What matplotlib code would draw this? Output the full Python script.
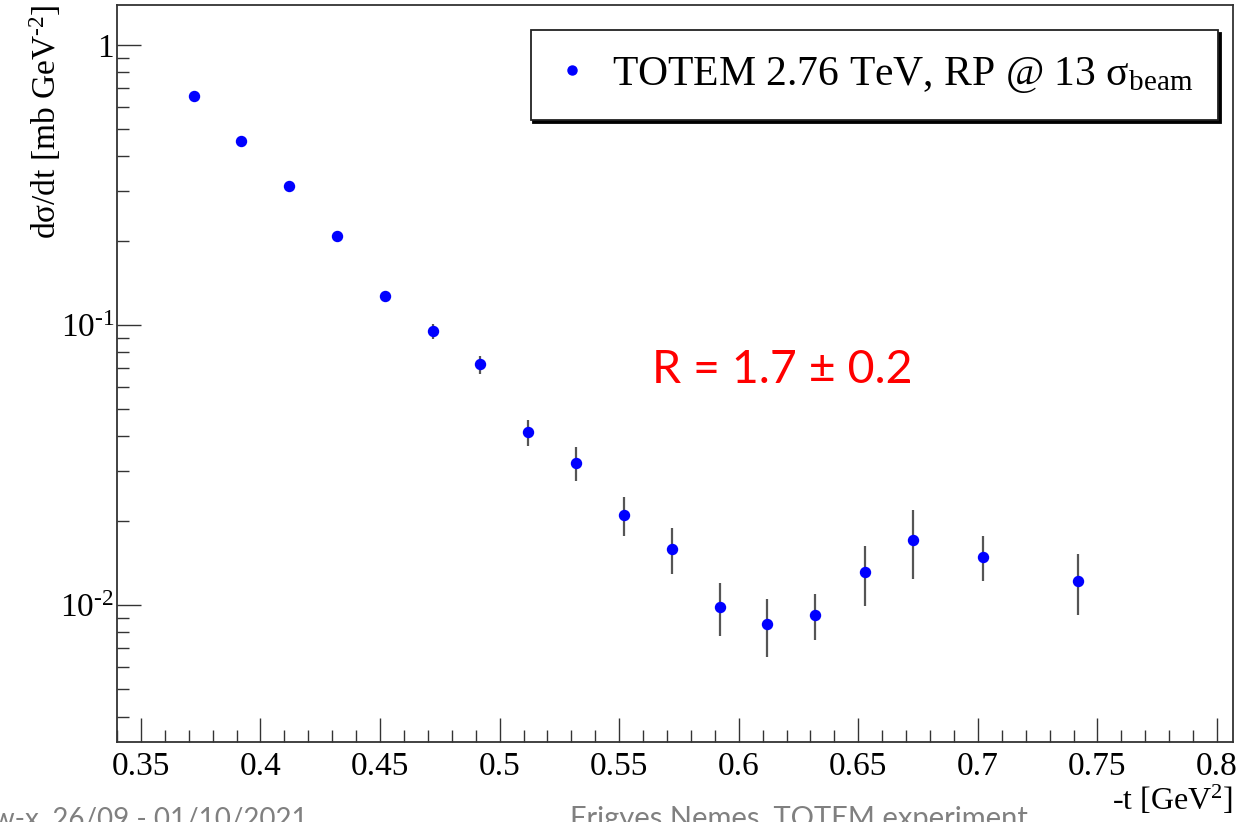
import numpy as np
import matplotlib
matplotlib.use("Agg")
import matplotlib.pyplot as plt
from matplotlib.lines import Line2D
from matplotlib.ticker import LogLocator, FixedLocator, MultipleLocator, FuncFormatter, NullFormatter

plt.rcParams['font.family'] = 'Liberation Serif'
plt.rcParams['mathtext.fontset'] = 'custom'
plt.rcParams['mathtext.rm'] = 'Liberation Serif'
plt.rcParams['mathtext.it'] = 'Liberation Serif:italic'
plt.rcParams['mathtext.bf'] = 'Liberation Serif:bold'

# -t bin centres [GeV^2] and measured dsigma/dt [mb/GeV^2]
t_vals = [0.372, 0.392, 0.412, 0.432, 0.452, 0.472, 0.492, 0.512, 0.532,
          0.552, 0.572, 0.592, 0.612, 0.632, 0.653, 0.673, 0.702, 0.742]
dsig = [0.659, 0.455, 0.313, 0.208, 0.127, 0.0952, 0.0724, 0.0414, 0.0322,
        0.0210, 0.0159, 0.00986, 0.00853, 0.00921, 0.0131, 0.0171, 0.0149, 0.0122]
dsig_err = [0.015, 0.010, 0.006, 0.005, 0.004, 0.0059, 0.0054, 0.0045, 0.00435,
            0.0034, 0.00295, 0.0021, 0.0020, 0.0017, 0.0032, 0.0047, 0.0027, 0.0030]

legend_label = r'TOTEM 2.76 TeV, RP @ 13 $\mathrm{σ_{beam}}$'
ratio_text = 'R = 1.7 ± 0.2'

W, H = 1238, 822
fig = plt.figure(figsize=(W / 100, H / 100), dpi=100)
ax = fig.add_axes([117 / W, 1 - 742 / H, (1233 - 117) / W, (742 - 5) / H])

ax.errorbar(t_vals, dsig, yerr=dsig_err, fmt='o', color='#0000ff', ms=7.2,
            mec='#0000ff', ecolor='#555555', elinewidth=1.6, capsize=0, zorder=3)

ax.set_yscale('log')
ax.set_xlim(0.34, 0.8067)
ax.set_ylim(10 ** -2.489, 10 ** 0.143)

ax.xaxis.set_major_locator(MultipleLocator(0.05))
ax.xaxis.set_minor_locator(MultipleLocator(0.01))
ax.xaxis.set_major_formatter(FuncFormatter(lambda v, p: ('%.2f' % v).rstrip('0').rstrip('.')))
ax.yaxis.set_major_locator(FixedLocator([1e-2, 1e-1, 1]))
ax.yaxis.set_minor_locator(LogLocator(base=10, subs=np.arange(2, 10)))
ax.yaxis.set_minor_formatter(NullFormatter())


def ylab(v, p):
    e = int(round(np.log10(v)))
    if e == 0:
        return '1'
    # plain hyphen in the exponent, ROOT style
    return r'10$^{\text{-%d}}$' % abs(e)


ax.yaxis.set_major_formatter(FuncFormatter(ylab))

ax.tick_params(which='both', direction='in', top=False, right=False,
               color='#333333', width=1.0, labelsize=24)
ax.tick_params(which='major', length=17, pad=7)
ax.tick_params(which='minor', length=8.5)
ax.tick_params(axis='y', pad=2)
for s in ax.spines.values():
    s.set_color('#333333')
    s.set_linewidth(1.3)

fig.text(45 / W, 1 - 4 / H, r'dσ/dt [mb GeV$^{\text{-2}}$]', rotation=90,
         ha='center', va='top', fontsize=24)
fig.text(1233 / W, 1 - 800 / H, r'-t [GeV$^{2}$]', ha='right', va='center', fontsize=23)

# legend entry: marker only, no error bar
handle = Line2D([], [], ls='none', marker='o', color='#0000ff', ms=6.5)
leg = ax.legend([handle], [legend_label], loc='upper right',
                bbox_to_anchor=(1218 / W, 1 - 30 / H),
                bbox_transform=fig.transFigure, borderaxespad=0, fancybox=False,
                shadow={'color': 'black', 'alpha': 1}, fontsize=30, frameon=True,
                handlelength=0.8, handletextpad=0.55, borderpad=0.6)
leg.get_frame().set_edgecolor('#222222')
leg.get_frame().set_linewidth(1.3)

fig.text(652 / W, 1 - 383 / H, ratio_text, color='#ff0000', fontsize=33.5,
         family='Lato', ha='left', va='baseline')

# slide footer, partly cut by the page edge
fig.text(308 / W, 1 - 806 / H, 'Low-x, 26/09 - 01/10/2021', color='#808080',
         fontsize=20, family='Lato', ha='right', va='top')
fig.text(570 / W, 1 - 806 / H, 'Frigyes Nemes, TOTEM experiment', color='#808080',
         fontsize=21, family='Lato', ha='left', va='top')

fig.savefig('out.png', dpi=100)
